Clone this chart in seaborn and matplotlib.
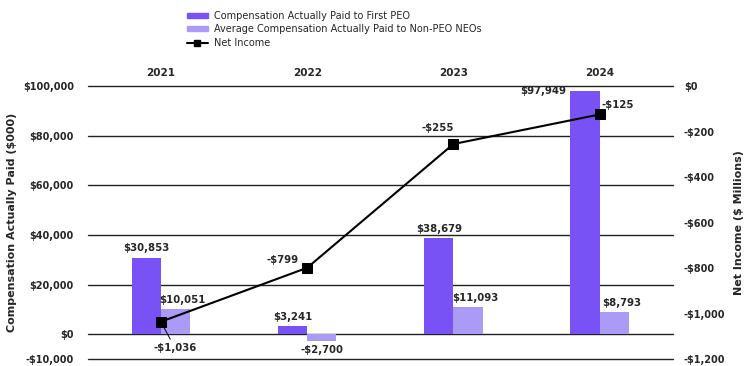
import numpy as np
import pandas as pd
import matplotlib
matplotlib.use("Agg")
import matplotlib.pyplot as plt
from matplotlib.lines import Line2D
from matplotlib.patches import Patch
import seaborn as sns

years = ["2021", "2022", "2023", "2024"]
peo_cap = [30853, 3241, 38679, 97949]
neo_cap = [10051, -2700, 11093, 8793]
net_income = [-1036, -799, -255, -125]

series_names = ["Compensation Actually Paid to First PEO",
                "Average Compensation Actually Paid to Non-PEO NEOs"]
colors = ["#7952F5", "#AB9BF7"]

left_ticks = [-10000, 0, 20000, 40000, 60000, 80000, 100000]
right_ticks = [-1200, -1000, -800, -600, -400, -200, 0]

sns.set_style("white")
plt.rcParams["font.family"] = ["DejaVu Sans"]

df = pd.DataFrame({
    "year": years * 2,
    "value": peo_cap + neo_cap,
    "series": [series_names[0]] * 4 + [series_names[1]] * 4,
})

fig = plt.figure(figsize=(7.5, 3.66), dpi=100)
ax = fig.add_axes([0.117, 0.019, 0.78, 0.746])

sns.barplot(data=df, x="year", y="value", hue="series", palette=colors,
            width=0.4, saturation=1, legend=False, ax=ax, zorder=3, linewidth=0)

ax.set_ylim(-10000, 100000)
ax.set_yticks(left_ticks)
ax.set_yticklabels([f"-${-v:,}" if v < 0 else f"${v:,}" for v in left_ticks],
                   fontsize=7, fontweight="bold")
ax.set_xlim(-0.5, 3.5)
ax.xaxis.tick_top()
ax.tick_params(axis="x", length=0, pad=6, labelsize=7.5)
for t in ax.get_xticklabels():
    t.set_fontweight("bold")
ax.tick_params(axis="y", length=0, pad=10)
ax.set_xlabel("")
ax.set_ylabel("Compensation Actually Paid ($000)", fontsize=8, fontweight="bold", labelpad=4)
ax.grid(axis="y", color="#222222", linewidth=1, zorder=0)
ax.grid(axis="x", visible=False)
for gl in ax.get_ygridlines():
    gl.set_clip_on(False)
for s in ax.spines.values():
    s.set_visible(False)

# bar labels
x = np.arange(len(years))
bw = 0.2
for i in range(len(years)):
    if i == 3:
        ax.annotate(f"${peo_cap[i]:,}", (x[i] - bw, peo_cap[i]), xytext=(-3, 0),
                    textcoords="offset points", ha="right", va="center",
                    fontsize=7.3, fontweight="bold")
    else:
        ax.annotate(f"${peo_cap[i]:,}", (x[i] - bw / 2, peo_cap[i]), xytext=(0, 3),
                    textcoords="offset points", ha="center", va="bottom",
                    fontsize=7.3, fontweight="bold")
    v = neo_cap[i]
    lab = f"-${-v:,}" if v < 0 else f"${v:,}"
    ax.annotate(lab, (x[i] + bw / 2, v), xytext=(5 if v > 0 else 0, 3 if v > 0 else -3),
                textcoords="offset points", ha="center",
                va="bottom" if v > 0 else "top", fontsize=7.3, fontweight="bold")

ax2 = ax.twinx()
sns.lineplot(x=x, y=net_income, ax=ax2, color="black", marker="s", markersize=7,
             markeredgecolor="black", linewidth=1.5, zorder=5)
ax2.set_ylim(-1200, 0)
ax2.set_yticks(right_ticks)
ax2.set_yticklabels([f"-${-v:,}" if v < 0 else f"${v:,}" for v in right_ticks],
                    fontsize=7, fontweight="bold")
ax2.tick_params(axis="y", length=0, pad=8)
ax2.set_ylabel("Net Income ($ Millions)", fontsize=8, fontweight="bold", labelpad=6)
ax2.grid(False)
for s in ax2.spines.values():
    s.set_visible(False)

ni_offsets = [(10, -15), (-18, 2), (-11, 8), (13, 3)]
for i, v in enumerate(net_income):
    dx, dy = ni_offsets[i]
    lab = f"-${-v:,}"
    if i == 0:
        ax2.annotate(lab, (x[i], v), xytext=(dx, dy), textcoords="offset points",
                     ha="center", va="top", fontsize=7.3, fontweight="bold",
                     arrowprops=dict(arrowstyle="-", color="black", lw=0.7,
                                     shrinkA=0, shrinkB=3))
    else:
        ax2.annotate(lab, (x[i], v), xytext=(dx, dy), textcoords="offset points",
                     ha="center", va="bottom", fontsize=7.3, fontweight="bold")

handles = [Patch(color=colors[0]), Patch(color=colors[1]),
           Line2D([0], [0], color="black", marker="s", markersize=5, linewidth=1.5)]
fig.legend(handles, series_names + ["Net Income"], loc="upper left",
           bbox_to_anchor=(0.237, 0.995), frameon=False, fontsize=7,
           handlelength=2.2, handleheight=0.45, labelspacing=0.38, handletextpad=0.6)

fig.savefig("out.png", dpi=100)
